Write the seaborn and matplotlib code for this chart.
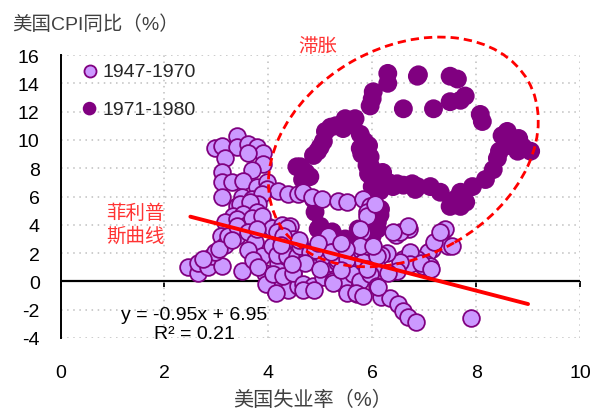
import pandas as pd
import seaborn as sns
import matplotlib.pyplot as plt
from matplotlib.patches import Ellipse
from matplotlib.transforms import ScaledTranslation

sns.set_style('white')
plt.rcParams['font.family'] = ['Liberation Sans', 'Noto Sans CJK SC']
plt.rcParams['axes.unicode_minus'] = False

# (unemployment %, CPI yoy %)
pts_1947_1970 = [
    # upper-left loop
    (3.4, 10.3), (2.98, 9.4), (3.1, 9.6), (3.4, 9.5), (3.6, 9.7), (3.79, 9.5),
    (3.9, 9.1), (3.6, 9.1), (3.17, 8.7), (3.9, 8.3), (3.69, 7.9), (3.1, 7.7),
    (3.1, 7.0), (3.3, 7.0), (3.52, 7.1), (3.78, 6.7), (3.98, 7.0), (3.97, 6.5),
    (4.19, 6.4), (4.37, 6.2), (4.58, 6.2), (3.1, 6.0), (3.49, 6.0), (3.69, 5.8),
    (3.88, 6.2), (3.4, 5.3), (3.6, 5.3), (3.8, 5.5), (3.46, 5.5), (3.65, 5.6),
    (3.33, 4.6), (3.52, 4.75), (3.78, 4.9), (3.17, 4.2), (3.4, 4.4), (3.59, 4.0),
    (3.78, 3.8), (3.97, 3.9), (4.17, 3.7), (3.08, 3.2), (3.4, 3.2), (3.69, 4.5),
    (3.88, 4.6), (4.07, 3.8), (4.27, 4.0), (4.42, 3.9),
    # chain around 6%
    (4.66, 6.3), (4.85, 6.0), (5.04, 5.8), (5.35, 5.7), (5.52, 5.6), (5.83, 5.8),
    (5.96, 5.3), (5.9, 4.9), (5.9, 4.6), (6.06, 5.5), (5.81, 3.5), (5.77, 3.7),
    (5.15, 3.2), (6.45, 3.3), (6.7, 3.7), (6.54, 3.5), (6.68, 3.9), (6.4, 3.5),
    # right group near 7%
    (7.41, 3.7), (7.31, 3.2), (7.45, 2.5), (7.54, 2.5), (7.16, 2.3), (7.08, 2.1),
    (7.02, 1.3), (7.08, 1.0), (6.97, 1.1), (6.83, 1.6), (7.18, 2.8), (7.31, 3.5),
    (7.12, 1.1), (6.87, 1.55), (6.6, 1.55), (6.73, 2.1), (6.73, 1.2), (6.54, 1.4),
    (6.48, 0.7), (6.29, 2.0), (6.93, 1.3), (7.14, 0.85),
    # lower-left tail
    (2.46, 1.0), (2.65, 0.6), (2.65, 1.3), (2.84, 1.0), (2.92, 1.8), (3.1, 1.1),
    (2.98, 2.1), (3.17, 2.6), (3.23, 3.2), (3.5, 0.7), (3.4, 3.9), (3.6, 3.5),
    (3.75, 2.8), (3.88, 1.8), (3.94, 0.6), (4.07, 0.0), (4.13, -0.6), (4.19, 1.3),
    (4.32, 1.8), (4.46, 2.0), (4.48, 0.6), (4.38, -0.6), (4.58, -0.3), (4.07, 2.5),
    (4.27, 3.0), (3.79, 3.7), (2.75, 1.6), (3.05, 2.3), (3.3, 2.9), (3.6, 2.2),
    (3.7, 1.5), (3.8, 1.0), (3.95, -0.2), (4.15, -0.8),
    # dense middle band
    (4.17, 3.5), (4.36, 3.8), (4.48, 3.0), (4.17, 1.9), (4.36, 1.8), (4.55, 1.8),
    (4.75, 1.7), (4.94, 1.4), (5.13, 1.2), (5.33, 1.4), (5.58, 1.7), (5.77, 1.2),
    (5.96, 1.4), (6.16, 1.9), (6.1, 1.0), (4.1, 0.5), (4.29, 0.35), (4.48, 0.6),
    (4.67, -0.2), (4.86, -0.35), (5.06, 0.3), (5.25, 0.0), (5.44, -0.2), (5.64, 0.5),
    (5.77, 0.0), (5.96, 0.5), (6.1, -0.35), (5.52, -0.8), (5.71, -0.9), (6.16, -1.1),
    (6.34, -1.15), (6.5, -1.6), (6.6, -2.1), (6.68, -2.5), (6.85, -2.9), (7.9, -2.6),
    (4.29, 3.2), (4.61, 2.5), (4.81, 2.05), (5.06, 1.8), (5.33, 1.55), (5.52, 1.55),
    (5.83, 1.35), (6.1, 1.8), (5.77, 2.5), (6.02, 2.5), (4.66, -0.6), (4.88, -0.6),
    (5.25, -0.1), (5.68, -0.8), (5.83, -1.0), (6.12, -0.4), (4.9, 2.2), (5.2, 2.1),
    (5.5, 2.3), (4.7, 1.3), (5.0, 0.9), (5.4, 0.8), (5.9, 0.9), (6.3, 0.6),
    (4.45, 1.2), (4.25, 2.6), (4.6, 2.9), (4.95, 2.7), (5.4, 2.7),
]

pts_1971_1980 = [
    (4.55, 8.1), (4.62, 8.1), (4.8, 7.4), (4.87, 8.9), (5.0, 9.5), (5.06, 9.9),
    (5.1, 10.6), (5.3, 11.0), (5.48, 11.5), (5.67, 11.5), (5.44, 10.8), (5.77, 10.4),
    (5.77, 9.4), (5.8, 9.0), (5.93, 9.6), (5.96, 8.8), (5.9, 8.2), (5.96, 8.2),
    (5.93, 7.6), (6.1, 7.4), (6.2, 7.7), (5.96, 12.4), (6.02, 13.4), (6.0, 12.9),
    (6.3, 14.7), (6.3, 14.0), (6.6, 12.2), (6.87, 14.5), (6.89, 14.6), (7.5, 14.5),
    (7.64, 14.3), (7.18, 12.2), (7.5, 12.7), (7.7, 12.8), (7.79, 13.1), (8.08, 11.8),
    (8.12, 11.3), (8.6, 10.6), (8.82, 10.1), (8.6, 9.6), (8.8, 9.2), (9.05, 9.2),
    (8.41, 8.7), (8.33, 7.9), (8.18, 7.2), (7.93, 6.7), (7.7, 6.3), (7.7, 5.3),
    (7.5, 5.3), (7.6, 5.8), (7.31, 6.3), (7.12, 6.7), (6.87, 6.7), (6.83, 6.5),
    (6.77, 6.9), (6.48, 6.9), (6.4, 6.7), (6.31, 7.0), (6.2, 6.7), (6.0, 6.7),
    (4.66, 7.2), (4.87, 5.8), (4.9, 4.9), (4.96, 3.7), (5.0, 3.9), (5.23, 3.5),
    (5.33, 3.0), (5.48, 3.0), (5.64, 3.0), (5.73, 3.7), (5.9, 3.2), (6.0, 3.2),
    (6.06, 4.4), (6.1, 4.2), (6.16, 5.1), (5.92, 5.8), (6.0, 5.8),
    (4.72, 7.7), (4.95, 9.2), (5.2, 10.9), (5.6, 11.2), (5.85, 9.9), (6.0, 7.9),
    (5.05, 3.3), (5.15, 3.2), (5.56, 2.9), (5.8, 3.0), (6.1, 3.7), (6.15, 4.7),
    (8.5, 10.3), (8.9, 9.5), (8.45, 9.2), (7.8, 5.6), (6.6, 6.8), (6.15, 6.4),
]

x_ticks = [0, 2, 4, 6, 8, 10]
y_ticks = [-4, -2, 0, 2, 4, 6, 8, 10, 12, 14, 16]
fit_slope, fit_intercept, fit_r2 = -0.95, 6.95, 0.21
fit_x = [2.5, 9.0]

old = pd.DataFrame(pts_1947_1970, columns=['unemp', 'cpi'])
new = pd.DataFrame(pts_1971_1980, columns=['unemp', 'cpi'])
fit = pd.DataFrame({'unemp': fit_x})
fit['cpi'] = fit_slope * fit['unemp'] + fit_intercept

fig = plt.figure(figsize=(5.93, 4.10), dpi=100)
ax = fig.add_axes([60.5 / 593, 71 / 410, 519.5 / 593, 283 / 410])

ax.axhline(0, color='black', linewidth=1.6, zorder=1.5)
sns.scatterplot(data=new, x='unemp', y='cpi', color='#800080', edgecolor='none',
                s=185, label='1971-1980', zorder=2, ax=ax)
sns.scatterplot(data=old, x='unemp', y='cpi', color='#CC99FF', edgecolor='#800080',
                linewidth=1.3, s=145, label='1947-1970', zorder=3, ax=ax)
sns.lineplot(data=fit, x='unemp', y='cpi', color='#FF0000', linewidth=2.8,
             zorder=4, ax=ax, legend=False)

# stagflation circle, drawn in inches around a data point
ell = Ellipse((0, 0), 2.87, 2.08, angle=29.6, fill=False, edgecolor='#FF0000',
              linewidth=2, linestyle=(0, (3, 1.8)), zorder=5, clip_on=False,
              transform=fig.dpi_scale_trans + ScaledTranslation(6.6, 9.15, ax.transData))
ax.add_patch(ell)

ax.set_xlim(0, 10)
ax.set_ylim(-4, 16)
ax.set_xticks(x_ticks)
ax.set_yticks(y_ticks)
ax.set_xlabel('')
ax.set_ylabel('')
ax.set_axisbelow(True)
ax.grid(True, color='#BFBFBF', linestyle=(0, (1, 3)), linewidth=1.1)
for side in ['top', 'right', 'bottom']:
    ax.spines[side].set_visible(False)
ax.spines['left'].set_color('black')
ax.spines['left'].set_linewidth(1.4)
ax.tick_params(axis='y', direction='out', length=5, width=1.3, pad=10,
               labelsize=14, colors='black')
ax.tick_params(axis='x', length=0, pad=19, labelsize=14, colors='black')

# small ticks on the zero line
zero = ax.secondary_xaxis(0.2)
zero.set_xticks(x_ticks)
zero.set_xticklabels([])
zero.tick_params(direction='out', length=4, width=1.3, colors='black')
zero.spines['bottom'].set_visible(False)

h, l = ax.get_legend_handles_labels()
ax.legend([h[1], h[0]], [l[1], l[0]], loc='upper left', bbox_to_anchor=(0.041, 0.975),
          frameon=False, fontsize=14, handlelength=0.8, handletextpad=0.25,
          labelspacing=1.05, borderpad=0, borderaxespad=0, markerscale=0.72)

ax.text(4.96, 16.67, '滞胀', color='#FF3333', fontsize=14, ha='center', va='center')
ax.text(1.44, 4.04, '菲利普\n斯曲线', color='#FF3333', fontsize=14, ha='center',
        va='center', linespacing=1.35)
ax.text(2.57, -3.0, f'y = {fit_slope}x + {fit_intercept}\nR² = {fit_r2}',
        fontsize=14, ha='center', va='center', color='black', linespacing=1.15)

fig.text(12 / 593, 1 - 25 / 410, '美国CPI同比（%）', fontsize=14, color='#404040',
         ha='left', va='center')
fig.text(313 / 593, 1 - 400 / 410, '美国失业率（%）', fontsize=14.5, color='#404040',
         ha='center', va='center')

fig.savefig('out.png', dpi=100)
